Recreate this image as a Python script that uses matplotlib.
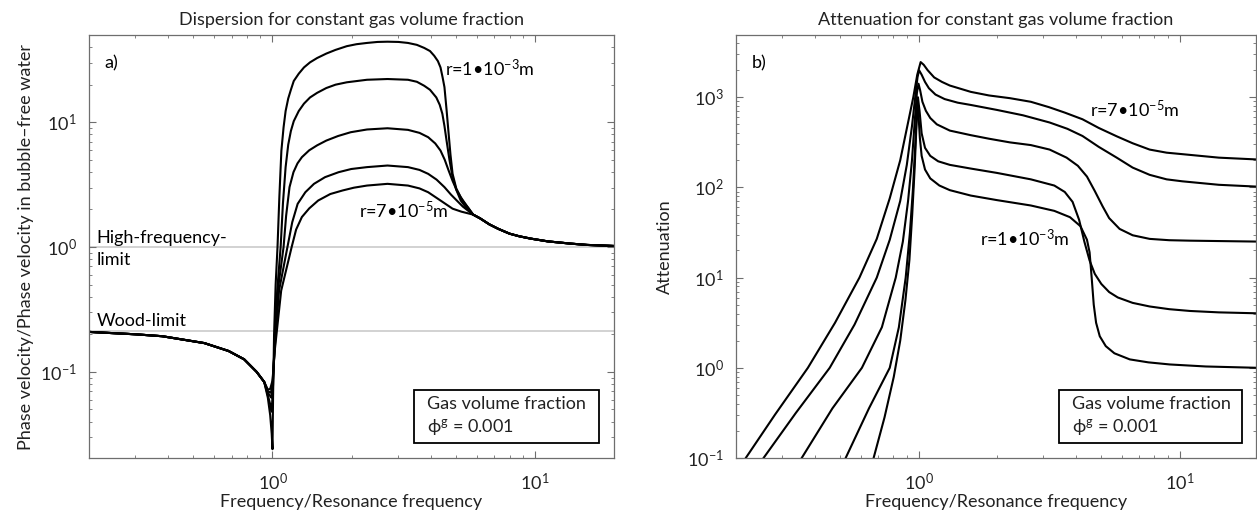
import matplotlib.pyplot as plt
from matplotlib.patches import Rectangle
from matplotlib.ticker import LogLocator, NullFormatter

plt.rcParams['font.family'] = ['Lato', 'DejaVu Sans']
plt.rcParams['mathtext.fontset'] = 'custom'
plt.rcParams['mathtext.rm'] = 'Lato'
plt.rcParams['mathtext.it'] = 'Lato:italic'
plt.rcParams['mathtext.bf'] = 'Lato:bold'

# ---- a) dispersion, values ----
# shared branch below resonance
disp_low_f = [0.2, 0.3, 0.38, 0.55, 0.68, 0.78, 0.87, 0.93]
disp_low_v = [0.209, 0.2, 0.193, 0.17, 0.147, 0.126, 0.1, 0.083]
# shared branch above the cut-off
disp_tail_f = [5.81, 6.17, 6.7, 7.24, 8.0, 8.71, 9.6, 11.2, 13.7, 15.8, 20]
disp_tail_v = [1.82, 1.7, 1.52, 1.40, 1.28, 1.22, 1.17, 1.11, 1.065, 1.04, 1.02]

# r = 1e-3 m
disp1_f = [0.96, 0.98, 0.993, 1.0, 1.005, 1.014, 1.028, 1.045, 1.062, 1.081, 1.102, 1.122,
           1.148, 1.175, 1.205, 1.259, 1.318, 1.39, 1.479, 1.603, 1.738, 1.919, 2.089,
           2.291, 2.512, 2.742, 3.02, 3.281, 3.548, 3.784, 3.981, 4.13, 4.266, 4.365,
           4.446, 4.519, 4.603, 4.688, 4.764, 4.853, 5.012, 5.212, 5.495]
disp1_v = [0.062, 0.045, 0.032, 0.024, 0.063, 0.2, 0.5, 1.0, 2.51, 5.9, 9.1, 12.3,
           15.5, 18.2, 21.4, 24.5, 27.5, 30.2, 32.7, 35.5, 38.0, 40.7, 42.2,
           43.2, 44.0, 44.2, 44.0, 43.2, 41.7, 39.4, 37.2, 34.1, 30.9, 27.5,
           22.9, 19.1, 12.6, 8.07, 5.5, 3.86, 2.95, 2.51, 2.14]
disp2_f = [0.96, 0.98, 0.993, 1.005, 1.019, 1.042, 1.074, 1.096, 1.122, 1.148, 1.175,
           1.205, 1.259, 1.318, 1.39, 1.479, 1.603, 1.738, 1.919, 2.291, 2.742, 3.281,
           3.548, 3.784, 3.981, 4.207, 4.335, 4.436, 4.519, 4.603, 4.721, 4.853, 5.012,
           5.212, 5.495]
disp2_v = [0.065, 0.055, 0.048, 0.079, 0.178, 0.447, 1.0, 2.24, 4.37, 6.61, 8.51,
           10.2, 12.3, 14.1, 15.8, 17.2, 18.8, 20.0, 20.9, 21.9, 22.2, 21.9,
           21.1, 19.6, 18.2, 15.8, 13.8, 11.7, 9.33, 7.13, 5.01, 3.63, 2.88,
           2.36, 2.04]
disp3_f = [0.96, 0.98, 0.991, 1.005, 1.021, 1.052, 1.102, 1.127, 1.161, 1.202, 1.245,
           1.294, 1.38, 1.479, 1.603, 1.778, 1.986, 2.291, 2.742, 3.281, 3.631, 3.917,
           4.169, 4.365, 4.529, 4.688, 4.853, 5.035, 5.309, 5.598]
disp3_v = [0.068, 0.064, 0.062, 0.089, 0.178, 0.479, 1.0, 1.78, 3.02, 3.98, 4.68,
           5.25, 5.96, 6.53, 7.13, 7.76, 8.32, 8.75, 8.95, 8.69, 8.22, 7.59,
           6.76, 5.93, 5.01, 4.1, 3.39, 2.84, 2.34, 2.03]
disp4_f = [0.96, 0.986, 1.0, 1.019, 1.059, 1.14, 1.189, 1.247, 1.334, 1.439, 1.585,
           1.786, 1.995, 2.291, 2.742, 3.281, 3.631, 3.917, 4.217, 4.519, 4.786, 5.035,
           5.309]
disp4_v = [0.07, 0.068, 0.079, 0.151, 0.447, 1.0, 1.58, 2.22, 2.75, 3.21, 3.63,
           3.98, 4.22, 4.37, 4.5, 4.37, 4.15, 3.86, 3.47, 3.02, 2.63, 2.36,
           2.11]
# r = 7e-5 m
disp5_f = [0.96, 0.98, 1.0, 1.021, 1.079, 1.183, 1.23, 1.294, 1.38, 1.493, 1.66,
           1.849, 2.042, 2.291, 2.742, 3.281, 3.631, 3.917, 4.365, 4.853, 5.248]
disp5_v = [0.072, 0.073, 0.085, 0.151, 0.447, 1.0, 1.38, 1.74, 2.04, 2.36, 2.66,
           2.84, 2.99, 3.11, 3.21, 3.11, 2.95, 2.75, 2.36, 2.03, 1.92]

high_freq_limit = 1.0
wood_limit = 0.213

# ---- b) attenuation ----
# r = 7e-5 m
att1_f = [0.2, 0.218, 0.282, 0.377, 0.479, 0.594, 0.692, 0.776, 0.851, 0.912, 0.955,
          0.989, 1.019, 1.047, 1.084, 1.148, 1.23, 1.318, 1.585, 1.862, 2.239, 2.692,
          3.162, 3.631, 4.246, 4.898, 5.741, 6.607, 7.674, 8.913, 10.23, 14.13, 20]
att1_v = [0.069, 0.1, 0.302, 1.0, 3.16, 10, 26.9, 75.9, 200, 525, 1000,
          1778, 2455, 2291, 1995, 1660, 1479, 1349, 1148, 1047, 977, 891,
          776, 676, 570, 457, 369, 309, 263, 243, 234, 214, 204]
att2_f = [0.2, 0.255, 0.339, 0.457, 0.569, 0.692, 0.776, 0.851, 0.902, 0.944, 0.973,
          0.991, 1.005, 1.028, 1.059, 1.096, 1.161, 1.259, 1.413, 1.585, 1.995, 2.512,
          3.177, 3.715, 4.246, 4.898, 5.741, 6.607, 7.674, 8.913, 10.23, 14.13, 20]
att2_v = [0.038, 0.1, 0.316, 1.0, 3.02, 10, 26.3, 70.8, 178, 479, 1047,
          1660, 1995, 1778, 1479, 1259, 1072, 955, 871, 822, 724, 631,
          525, 447, 372, 282, 214, 166, 138, 123, 117, 107, 102]
att3_f = [0.316, 0.357, 0.468, 0.607, 0.724, 0.818, 0.871, 0.912, 0.944, 0.968, 0.986,
          1.0, 1.014, 1.035, 1.067, 1.109, 1.175, 1.318, 1.585, 1.862, 2.239, 2.692,
          3.177, 3.69, 4.074, 4.416, 4.732, 5.07, 5.37, 5.888, 6.607, 7.674, 9.12,
          10.96, 20]
att3_v = [0.059, 0.1, 0.355, 1.0, 2.82, 10, 25.1, 70.8, 200, 562, 1122,
          1413, 1202, 891, 708, 589, 501, 427, 380, 347, 316, 295,
          263, 214, 174, 132, 91.2, 61.7, 45.7, 34.7, 29.5, 26.9, 26.0,
          25.7, 25.1]
att4_f = [0.457, 0.526, 0.646, 0.776, 0.841, 0.893, 0.927, 0.953, 0.973, 0.986, 0.995,
          1.009, 1.028, 1.059, 1.109, 1.189, 1.318, 1.585, 1.995, 2.692, 3.311, 3.631,
          3.89, 4.121, 4.315, 4.519, 4.732, 5.012, 5.37, 5.794, 6.607, 7.674, 9.12,
          10.96, 14.13, 20]
att4_v = [0.045, 0.1, 0.355, 1.0, 2.82, 10, 31.6, 100, 316, 708, 1000,
          708, 398, 275, 224, 195, 178, 162, 145, 123, 105, 89.1,
          69.2, 43.7, 25.1, 15.5, 11.0, 8.51, 6.92, 6.03, 5.25, 4.79, 4.47,
          4.27, 4.12, 4.02]
# r = 1e-3 m
att5_f = [0.617, 0.673, 0.741, 0.804, 0.851, 0.891, 0.923, 0.946, 0.966, 0.979, 0.989,
          1.0, 1.012, 1.028, 1.059, 1.109, 1.202, 1.318, 1.585, 1.995, 2.692, 3.311,
          3.802, 4.169, 4.416, 4.519, 4.603, 4.688, 4.786, 4.943, 5.212, 5.623, 6.442,
          7.586, 9.162, 12.59, 20]
att5_v = [0.032, 0.1, 0.282, 0.794, 2.0, 5.62, 15.8, 50.1, 158, 398, 851,
          631, 355, 224, 158, 126, 105, 93.3, 81.3, 72.4, 63.1, 55.0,
          46.8, 37.2, 26.3, 19.1, 10.0, 5.01, 3.16, 2.24, 1.74, 1.45, 1.24,
          1.15, 1.09, 1.035, 1.0]

curve_color = 'black'
frame_color = '#6e6e6e'
text_color = '#222222'


def style_axes(ax):
    for sp in ax.spines.values():
        sp.set_color(frame_color)
        sp.set_linewidth(0.9)
    ax.xaxis.set_major_locator(LogLocator(base=10, numticks=10))
    ax.xaxis.set_minor_locator(LogLocator(base=10, subs=range(2, 10), numticks=20))
    ax.yaxis.set_major_locator(LogLocator(base=10, numticks=10))
    ax.yaxis.set_minor_locator(LogLocator(base=10, subs=range(2, 10), numticks=20))
    ax.xaxis.set_minor_formatter(NullFormatter())
    ax.yaxis.set_minor_formatter(NullFormatter())
    ax.tick_params(which='both', direction='in', top=True, right=True,
                   color=frame_color, labelsize=13, labelcolor=text_color)
    ax.tick_params(which='major', length=5, width=0.8)
    ax.tick_params(which='minor', length=2.5, width=0.6)
    ax.tick_params(axis='x', which='major', pad=10)
    ax.tick_params(axis='y', which='major', pad=9)


def gas_box(ax, x0):
    ax.add_patch(Rectangle((x0, 0.035), 0.352, 0.126, transform=ax.transAxes,
                           fill=False, edgecolor='black', linewidth=1.3, zorder=5))
    ax.text(x0 + 0.025, 0.128, 'Gas volume fraction', transform=ax.transAxes,
            fontsize=13, va='center', ha='left', color=text_color)
    ax.text(x0 + 0.025, 0.071, 'ϕ$^{\\mathrm{g}}$ = 0.001', transform=ax.transAxes,
            fontsize=13, va='center', ha='left', color=text_color)


fig = plt.figure(figsize=(12.57, 5.18), dpi=100)
ax1 = fig.add_axes([0.0708, 0.1158, 0.4177, 0.8166])
ax2 = fig.add_axes([0.5855, 0.1158, 0.4137, 0.8166])

# ---- panel a ----
ax1.axhline(high_freq_limit, color='#cfcfcf', linewidth=1.3, zorder=1)
ax1.axhline(wood_limit, color='#cfcfcf', linewidth=1.3, zorder=1)
for f, v in [(disp1_f, disp1_v), (disp2_f, disp2_v), (disp3_f, disp3_v),
             (disp4_f, disp4_v), (disp5_f, disp5_v)]:
    ax1.plot(disp_low_f + f + disp_tail_f, disp_low_v + v + disp_tail_v,
             color=curve_color, linewidth=1.5)
ax1.set_xscale('log')
ax1.set_yscale('log')
ax1.set_xlim(0.2, 20)
ax1.set_ylim(0.0204, 50)
style_axes(ax1)
ax1.set_title('Dispersion for constant gas volume fraction', fontsize=13, pad=7, color=text_color)
ax1.set_xlabel('Frequency/Resonance frequency', fontsize=13, labelpad=1, color=text_color)
ax1.set_ylabel('Phase velocity/Phase velocity in bubble–free water', fontsize=13,
               labelpad=4, color=text_color)
ax1.text(0.03, 0.934, 'a)', transform=ax1.transAxes, fontsize=13, va='center')
ax1.text(0.015, 0.52, 'High-frequency-', transform=ax1.transAxes, fontsize=13, va='center')
ax1.text(0.015, 0.468, 'limit', transform=ax1.transAxes, fontsize=13, va='center')
ax1.text(0.015, 0.324, 'Wood-limit', transform=ax1.transAxes, fontsize=13, va='center')
ax1.text(0.678, 0.922, 'r=1•10$^{-3}$m', transform=ax1.transAxes, fontsize=13, va='center')
ax1.text(0.514, 0.586, 'r=7•10$^{-5}$m', transform=ax1.transAxes, fontsize=13, va='center')
gas_box(ax1, 0.619)

# ---- panel b ----
for f, v in [(att1_f, att1_v), (att2_f, att2_v), (att3_f, att3_v),
             (att4_f, att4_v), (att5_f, att5_v)]:
    ax2.plot(f, v, color=curve_color, linewidth=1.5)
ax2.set_xscale('log')
ax2.set_yscale('log')
ax2.set_xlim(0.2, 19.6)
ax2.set_ylim(0.1, 4900)
style_axes(ax2)
ax2.set_title('Attenuation for constant gas volume fraction', fontsize=13, pad=7, color=text_color)
ax2.set_xlabel('Frequency/Resonance frequency', fontsize=13, labelpad=1, color=text_color)
ax2.set_ylabel('Attenuation', fontsize=13, labelpad=10, color=text_color)
ax2.text(0.031, 0.934, 'b)', transform=ax2.transAxes, fontsize=13, va='center')
ax2.text(0.681, 0.823, 'r=7•10$^{-5}$m', transform=ax2.transAxes, fontsize=13, va='center')
ax2.text(0.469, 0.52, 'r=1•10$^{-3}$m', transform=ax2.transAxes, fontsize=13, va='center')
gas_box(ax2, 0.621)

fig.savefig('out.png', dpi=100, facecolor='white')
